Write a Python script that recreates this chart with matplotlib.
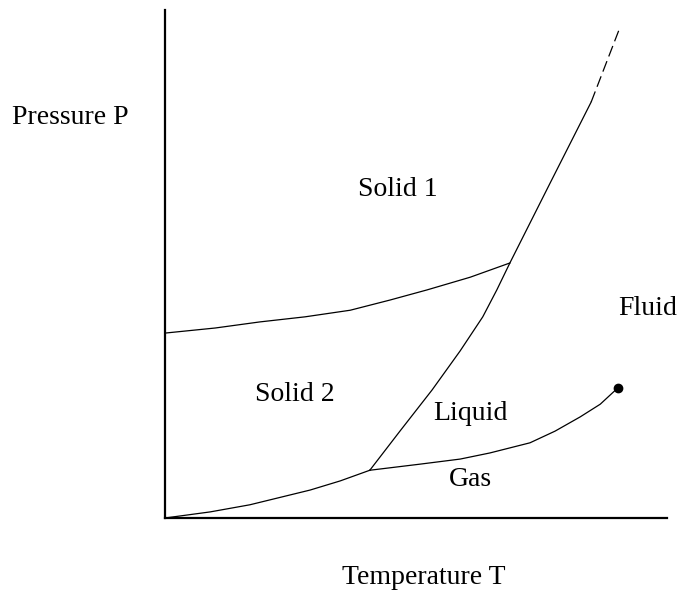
import matplotlib
matplotlib.use("Agg")
import matplotlib.pyplot as plt

# Phase boundaries (T, P) in arbitrary units
sub_T = [0.0, 0.90, 1.69, 2.89, 3.49, 4.08]
sub_P = [0.0, 0.12, 0.26, 0.55, 0.73, 0.94]

lg_T = [4.08, 5.08, 5.88, 6.47, 7.27, 7.77, 8.27, 8.67, 9.02]
lg_P = [0.94, 1.06, 1.16, 1.28, 1.48, 1.71, 1.99, 2.24, 2.56]

melt_T = [4.08, 4.68, 5.32, 5.88, 6.33, 6.61, 6.87, 7.67, 8.49]
melt_P = [0.94, 1.71, 2.52, 3.29, 3.96, 4.49, 5.02, 6.59, 8.19]

ext_T = [8.49, 9.06]
ext_P = [8.19, 9.65]

ss_T = [0.0, 1.00, 1.89, 2.79, 3.69, 4.48, 5.22, 6.08, 6.87]
ss_P = [3.64, 3.74, 3.86, 3.96, 4.09, 4.29, 4.49, 4.74, 5.02]

crit_T = [9.02]
crit_P = [2.56]

region_labels = ["Solid 1", "Solid 2", "Liquid", "Gas", "Fluid"]
region_T = [4.64, 2.59, 6.08, 6.08, 9.62]
region_P = [6.46, 2.44, 2.05, 0.75, 4.13]

plt.rcParams['font.family'] = ['Liberation Serif', 'DejaVu Serif']

fig = plt.figure(figsize=(6.81, 5.90), dpi=100)
ax = fig.add_axes([165/681, 72/590, 502/681, 508/590])
ax.set_xlim(0, 10)
ax.set_ylim(0, 10)
for s in ['top', 'right']:
    ax.spines[s].set_visible(False)
for s in ['left', 'bottom']:
    ax.spines[s].set_linewidth(1.6)
ax.set_xticks([])
ax.set_yticks([])

lw = 0.9
ax.plot(sub_T, sub_P, color='black', lw=lw, clip_on=False)
ax.plot(lg_T, lg_P, color='black', lw=lw)
ax.plot(melt_T, melt_P, color='black', lw=lw)
ax.plot(ext_T, ext_P, color='black', lw=lw, dashes=(9, 4))
ax.plot(ss_T, ss_P, color='black', lw=lw, clip_on=False)
ax.plot(crit_T, crit_P, 'o', color='black', ms=6)

for lab, t, p in zip(region_labels, region_T, region_P):
    ax.text(t, p, lab, ha='center', va='center', fontsize=20)

fig.text(70/681, 1 - 117/590, "Pressure P", ha='center', va='center', fontsize=20)
fig.text(424/681, 1 - 578/590, "Temperature T", ha='center', va='center', fontsize=20)

fig.savefig("out.png", dpi=100)
